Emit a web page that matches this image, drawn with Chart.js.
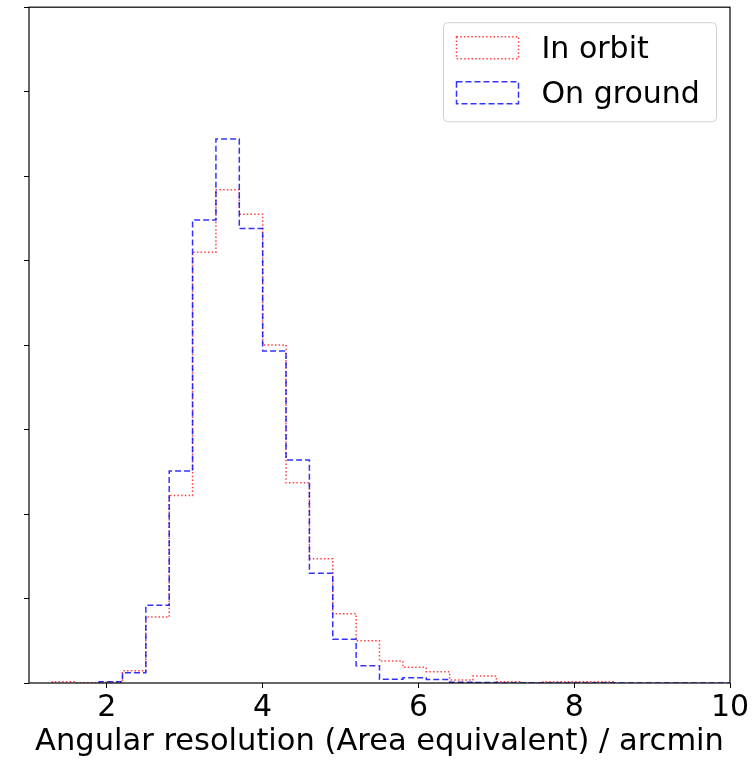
<!DOCTYPE html>
<html><head><meta charset="utf-8">
<script src="https://cdn.jsdelivr.net/npm/chart.js@4.4.0/dist/chart.umd.min.js"></script>
<style>html,body{margin:0;padding:0;background:#fff}canvas{display:block}</style>
</head><body>
<canvas id="c" width="756" height="760"></canvas>
<script>
// ---- data ----
const seriesNames = ["In orbit", "On ground"];
const orbitEdges = [1.3,1.6,1.9,2.2,2.5,2.8,3.1,3.4,3.7,4.0,4.3,4.6,4.9,5.2,5.5,5.8,6.1,6.4,6.7,7.0,7.3,7.6,7.9,8.2,8.5];
const orbitCounts = [0.015,0.004,0.01,0.145,0.78,2.22,5.10,5.84,5.55,4.00,2.37,1.47,0.82,0.50,0.26,0.185,0.134,0.035,0.083,0.015,0,0.015,0.015,0.015];
const groundEdges = [1.9,2.2,2.5,2.8,3.1,3.4,3.7,4.0,4.3,4.6,4.9,5.2,5.5,5.8,6.1,6.4,6.7,7.0,7.3,7.6,7.9,8.2,8.5,8.8,9.1,9.4,9.7,10.0];
const groundCounts = [0.015,0.12,0.92,2.51,5.48,6.44,5.38,3.93,2.64,1.30,0.517,0.205,0.044,0.063,0.04,0.01,0.005,0,0,0,0,0,0,0,0,0,0];
const xTicks = [2,4,6,8,10];
const yTicks = [0,1,2,3,4,5,6,7,8];
const xTitle = "Angular resolution (Area equivalent) / arcmin";

// step outline (matplotlib histtype='step')
function stepPoints(edges, counts){
  const pts = [{x:edges[0], y:0}];
  for (let i=0;i<counts.length;i++){
    pts.push({x:edges[i], y:counts[i]});
    pts.push({x:edges[i+1], y:counts[i]});
  }
  pts.push({x:edges[edges.length-1], y:0});
  return pts;
}

const FONT = "'DejaVu Sans', sans-serif";
const redCol = 'rgba(255,0,0,0.75)';
const blueCol = 'rgba(0,0,255,0.8)';
const dashes = [[1.5,2.2],[6,3]];
const cols = [redCol, blueCol];

const framePlugin = {
  id:'frame',
  afterDraw(chart){
    const {ctx, chartArea:a} = chart;
    ctx.save();
    ctx.strokeStyle = '#000';
    ctx.lineWidth = 1.2;
    ctx.setLineDash([]);
    ctx.strokeRect(a.left, a.top, a.right-a.left, a.bottom-a.top);
    // legend
    const bx = a.right - 286.5, by = a.top + 15.5, bw = 273, bh = 99;
    ctx.beginPath();
    ctx.roundRect(bx, by, bw, bh, 4);
    ctx.fillStyle = 'rgba(255,255,255,0.8)';
    ctx.fill();
    ctx.strokeStyle = '#d0d0d0';
    ctx.lineWidth = 1;
    ctx.stroke();
    ctx.font = '30px ' + FONT;
    ctx.textBaseline = 'alphabetic';
    ctx.textAlign = 'left';
    for (let i=0;i<seriesNames.length;i++){
      const hy = a.top + 29.5 + i*45;
      ctx.strokeStyle = cols[i];
      ctx.lineWidth = 1.5;
      ctx.setLineDash(dashes[i]);
      ctx.strokeRect(bx+13, hy, 62, 22);
      ctx.setLineDash([]);
      ctx.fillStyle = '#000';
      ctx.fillText(seriesNames[i], bx+98, a.top + 51 + i*45);
    }
    ctx.restore();
  }
};

new Chart(document.getElementById('c'), {
  type:'line',
  data:{
    datasets:[
      {label:seriesNames[0], data:stepPoints(orbitEdges, orbitCounts), borderColor:redCol, borderWidth:1.5, borderDash:dashes[0], pointRadius:0, fill:false, tension:0, order:1},
      {label:seriesNames[1], data:stepPoints(groundEdges, groundCounts), borderColor:blueCol, borderWidth:1.5, borderDash:dashes[1], pointRadius:0, fill:false, tension:0, order:0}
    ]
  },
  options:{
    responsive:false,
    animation:false,
    devicePixelRatio:1,
    layout:{padding:{top:6.5, right:26, left:0, bottom:0}},
    plugins:{legend:{display:false}, tooltip:{enabled:false}},
    scales:{
      x:{
        type:'linear', min:1, max:10,
        afterBuildTicks(s){ s.ticks = xTicks.map(v=>({value:v})); },
        afterFit(s){ s.height = 77; },
        grid:{drawOnChartArea:false, color:'#000', tickLength:5, lineWidth:1},
        border:{display:false},
        ticks:{color:'#000', font:{family:FONT, size:30}, padding:2, maxRotation:0, autoSkip:false},
        title:{display:true, text:xTitle, color:'#000', font:{family:FONT, size:30.5}, padding:{top:0,bottom:0}}
      },
      y:{
        type:'linear', min:0, max:8,
        afterBuildTicks(s){ s.ticks = yTicks.map(v=>({value:v})); },
        afterFit(s){ s.width = 29; },
        grid:{drawOnChartArea:false, color:'#000', tickLength:5, lineWidth:1},
        border:{display:false},
        ticks:{display:true, callback:()=> '', padding:0}
      }
    }
  },
  plugins:[framePlugin]
});
</script>
</body></html>
